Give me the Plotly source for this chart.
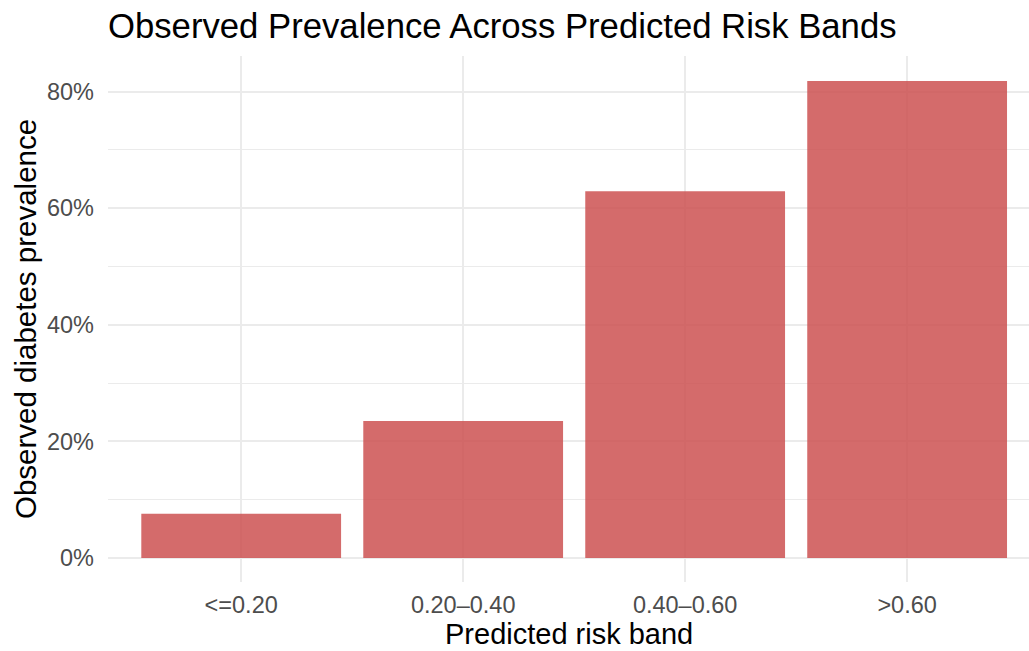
import plotly.graph_objects as go

# Observed diabetes prevalence per predicted-risk band
risk_bands = ["<=0.20", "0.20\u20130.40", "0.40\u20130.60", ">0.60"]
prevalence_pct = [7.6, 23.5, 62.9, 81.8]

y_major = [0, 20, 40, 60, 80]
y_major_labels = ["0%", "20%", "40%", "60%", "80%"]
y_minor = [10, 30, 50, 70]

FONT = "Liberation Sans, Arial, sans-serif"
GRID = "#EBEBEB"

fig = go.Figure(
    go.Bar(
        x=risk_bands,
        y=prevalence_pct,
        width=0.9,
        marker=dict(color="rgb(204,81,81)", opacity=0.85, line=dict(width=0)),
        hoverinfo="x+y",
    )
)

fig.update_layout(
    width=1029,
    height=651,
    margin=dict(l=108, r=0, t=56, b=69),
    paper_bgcolor="white",
    plot_bgcolor="white",
    font=dict(family=FONT, color="#4D4D4D"),
    showlegend=False,
    title=dict(
        text="Observed Prevalence Across Predicted Risk Bands",
        font=dict(size=34.7, color="black", family=FONT),
        x=108 / 1029,
        xanchor="left",
        xref="container",
        y=1 - 26 / 651,
        yanchor="middle",
        yref="container",
    ),
    xaxis=dict(
        type="category",
        range=[-0.6, 3.549],
        showgrid=True,
        gridcolor=GRID,
        gridwidth=2,
        zeroline=False,
        showline=False,
        ticks="",
        tickfont=dict(size=23.5, color="#4D4D4D"),
        ticklabelstandoff=6,
    ),
    yaxis=dict(
        range=[-4.1, 86.1],
        tickvals=y_major,
        ticktext=y_major_labels,
        showgrid=True,
        gridcolor=GRID,
        gridwidth=2,
        zeroline=False,
        showline=False,
        ticks="",
        tickfont=dict(size=23.5, color="#4D4D4D"),
        ticklabelstandoff=13,
        minor=dict(tickvals=y_minor, showgrid=True, gridcolor=GRID, gridwidth=1.2),
    ),
    annotations=[
        dict(
            text="Predicted risk band",
            xref="paper", yref="paper", x=0.5, y=0,
            xanchor="center", yanchor="middle", yshift=-52,
            showarrow=False, font=dict(size=29, color="black", family=FONT),
        ),
        dict(
            text="Observed diabetes prevalence",
            xref="paper", yref="paper", x=0, y=0.5,
            xanchor="center", yanchor="middle", xshift=-83,
            textangle=-90,
            showarrow=False, font=dict(size=29.5, color="black", family=FONT),
        ),
    ],
)

fig.write_html("out.html")
